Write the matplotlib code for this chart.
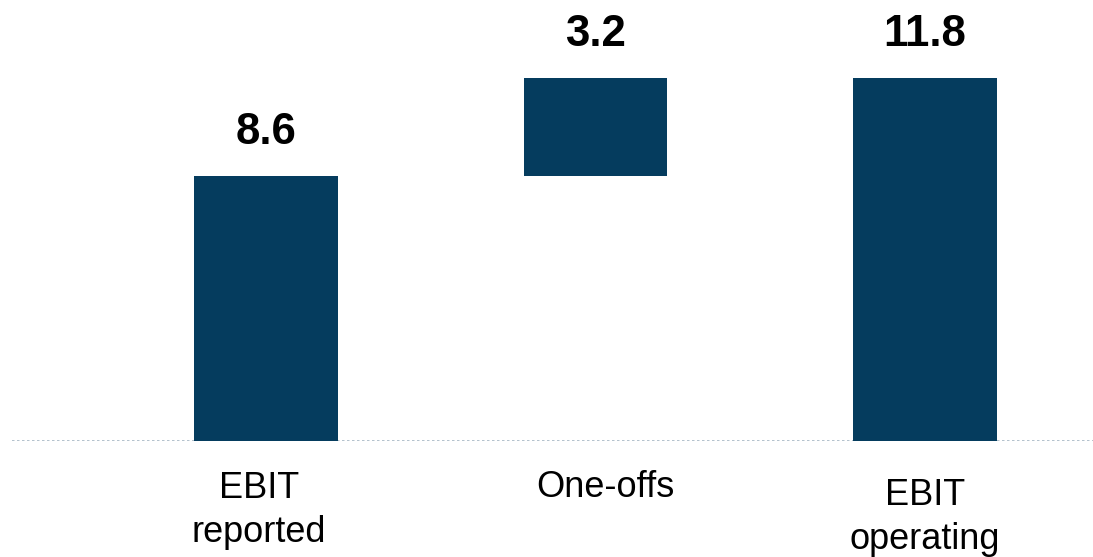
import matplotlib
matplotlib.use("Agg")
import matplotlib.pyplot as plt

categories = ["EBIT\nreported", "One-offs", "EBIT\noperating"]
values = [8.6, 3.2, 11.8]
bottoms = [0.0, 8.6, 0.0]
labels = ["8.6", "3.2", "11.8"]

W, H = 1093, 557
fig = plt.figure(figsize=(W / 100, H / 100), dpi=100)
ax = fig.add_axes([0, (H - 441) / H, 1, 441 / H])
plt.rcParams['font.family'] = ['Liberation Sans', 'DejaVu Sans']
fam = ['Liberation Sans', 'DejaVu Sans']

color = "#053C5E"
x = [0, 1, 2]
ax.bar(x, values, bottom=bottoms, width=0.437, color=color, zorder=2)

px_per_unit = 329.5
left = -266 / px_per_unit
right = left + W / px_per_unit
ax.set_xlim(left, right)
ax.set_ylim(0, 441 / 30.8)

for xi, v, b, lab in zip(x, values, bottoms, labels):
    ax.annotate(lab, (xi, v + b), xytext=(0, 23), textcoords="offset points",
                ha="center", va="baseline", fontsize=31.5, fontweight="bold",
                family=fam)

ax.axhline(0, xmin=12 / W, xmax=1, color="#A5B6C4", lw=1.2, ls=(0, (1.5, 1.5)), zorder=1)

for s in ax.spines.values():
    s.set_visible(False)
ax.set_xticks([])
ax.set_yticks([])

label_baselines = [498, 497, 505]
label_x = [259, 605, 925]
line_gap = 44
for lx, ly, cat in zip(label_x, label_baselines, categories):
    for i, line in enumerate(cat.split("\n")):
        fig.text(lx / W, 1 - (ly + i * line_gap) / H, line, ha="center",
                 va="baseline", fontsize=26, family=fam)

fig.savefig("out.png", dpi=100)
